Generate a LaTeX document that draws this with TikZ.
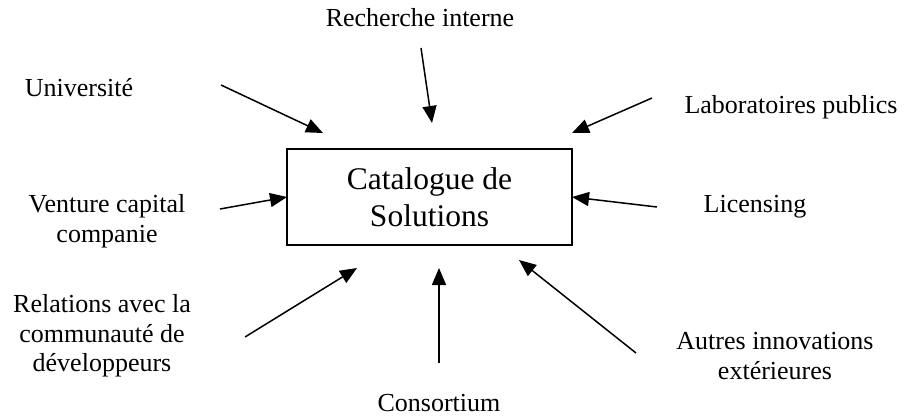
\documentclass[tikz,border=0pt]{standalone}
\usepackage{fontspec}
\setmainfont{Liberation Serif}
\usetikzlibrary{arrows.meta}
\begin{document}
\begin{tikzpicture}[x=1pt,y=-1pt,
  lbl/.style={align=center,inner sep=0pt,font=\fontsize{26}{29.5}\selectfont},
  mainbox/.style={draw,line width=1.5pt,minimum width=285pt,minimum height=96pt,align=center,inner sep=0pt,font=\fontsize{31.5}{37}\selectfont},
  arr/.style={line width=1.5pt,-{Triangle[length=17pt,width=14pt]}}]
\useasboundingbox (0,0) rectangle (904,417);
\node[mainbox] (cat) at (429.5,197) {Catalogue de\\Solutions};
\node[lbl] (rech) at (420,18) {Recherche interne};
\node[lbl] (univ) at (79,88) {Université};
\node[lbl] (labo) at (791,107) {Laboratoires publics};
\node[lbl] (vent) at (107,221) {Venture capital\\companie};
\node[lbl] (lic) at (755,207) {Licensing};
\node[lbl] (rel) at (102,336) {Relations avec la\\communauté de\\développeurs};
\node[lbl] (cons) at (439,403) {Consortium};
\node[lbl] (autr) at (775,356) {Autres innovations\\extérieures};
\coordinate (univS) at (221,85);   \coordinate (univT) at (323,133);
\coordinate (rechS) at (421,48);   \coordinate (rechT) at (432,123);
\coordinate (laboS) at (652,98);   \coordinate (laboT) at (572,133);
\coordinate (ventS) at (220,209);  \coordinate (ventT) at (287,197);
\coordinate (licS) at (657,207);   \coordinate (licT) at (572,197);
\coordinate (relS) at (245,337);   \coordinate (relT) at (357,268);
\coordinate (consS) at (439,363);  \coordinate (consT) at (439,268);
\coordinate (autrS) at (636,353);  \coordinate (autrT) at (519,260);
\draw[arr] (univS) -- (univT);
\draw[arr] (rechS) -- (rechT);
\draw[arr] (laboS) -- (laboT);
\draw[arr] (ventS) -- (ventT);
\draw[arr] (licS) -- (licT);
\draw[arr] (relS) -- (relT);
\draw[arr] (consS) -- (consT);
\draw[arr] (autrS) -- (autrT);
\end{tikzpicture}
\end{document}
